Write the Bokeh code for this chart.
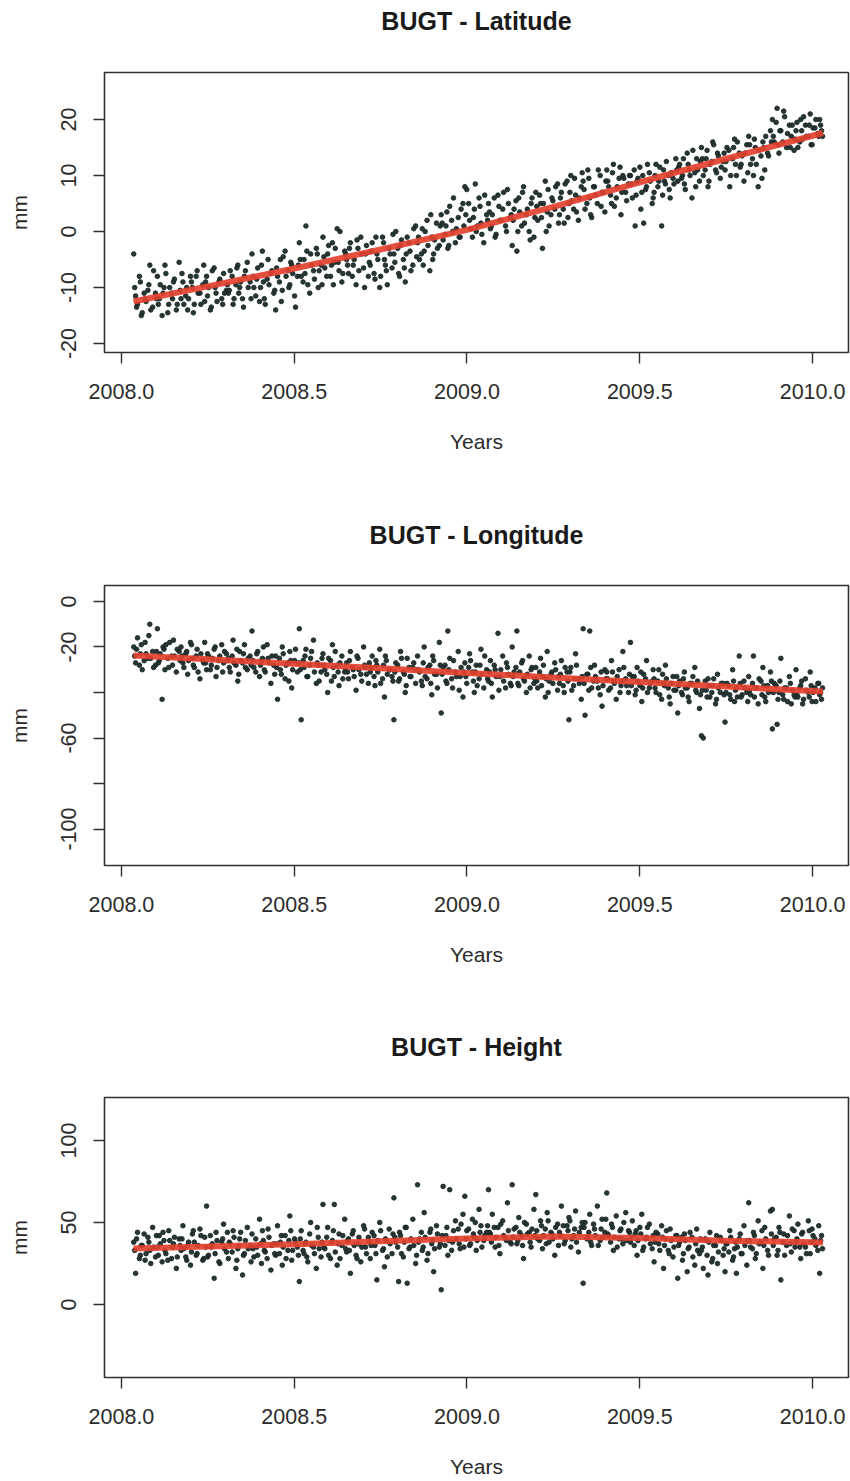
from bokeh.plotting import figure
from bokeh.layouts import column
from bokeh.models import Range1d, FixedTicker, PrintfTickFormatter
from bokeh.core.properties import value
from bokeh.embed import file_html
from bokeh.resources import INLINE

# ---- data ----
epoch_day = [
    13, 15, 17, 20, 22, 25, 28, 30, 33, 36,
    38, 40, 43, 45, 47, 50, 53, 55, 58, 61,
    63, 65, 68, 70, 73, 75, 77, 80, 83, 86,
    88, 90, 92, 95, 98, 100, 103, 106, 108, 111,
    113, 115, 118, 121, 123, 125, 128, 130, 133, 136,
    138, 140, 143, 146, 148, 150, 152, 155, 158, 161,
    163, 165, 168, 170, 173, 176, 178, 180, 183, 186,
    188, 190, 193, 195, 197, 200, 203, 206, 208, 211,
    213, 215, 218, 221, 223, 225, 228, 230, 233, 236,
    238, 240, 242, 245, 248, 250, 253, 256, 258, 261,
    263, 265, 268, 270, 273, 276, 278, 280, 283, 286,
    288, 290, 293, 295, 298, 300, 302, 305, 308, 311,
    313, 315, 318, 320, 323, 326, 328, 330, 333, 336,
    338, 340, 343, 345, 347, 350, 353, 356, 358, 361,
    363, 365, 368, 371, 373, 375, 378, 380, 383, 386,
    388, 390, 392, 395, 398, 400, 403, 406, 408, 411,
    413, 415, 418, 420, 423, 425, 428, 431, 433, 436,
    438, 440, 443, 445, 448, 450, 452, 455, 458, 461,
    463, 465, 468, 471, 473, 475, 478, 480, 483, 486,
    488, 490, 493, 495, 497, 500, 503, 506, 508, 511,
    513, 515, 518, 520, 523, 526, 528, 530, 533, 536,
    538, 540, 543, 545, 548, 550, 552, 555, 558, 561,
    563, 565, 568, 571, 573, 575, 578, 580, 583, 586,
    588, 590, 593, 595, 598, 600, 603, 606, 608, 611,
    613, 615, 618, 620, 622, 625, 628, 630, 633, 636,
    638, 640, 643, 646, 648, 650, 653, 655, 658, 661,
    663, 665, 668, 670, 673, 676, 678, 680, 683, 686,
    688, 690, 693, 695, 697, 700, 703, 706, 708, 711,
    713, 715, 718, 720, 723, 726, 728, 730, 733, 736,
    738, 740,
    14, 16, 19, 21, 24, 26, 29, 31, 34, 37,
    39, 41, 44, 46, 49, 51, 54, 56, 59, 62,
    64, 66, 69, 71, 74, 76, 79, 81, 84, 87,
    89, 91, 94, 96, 99, 101, 104, 107, 109, 112,
    114, 117, 119, 122, 124, 126, 129, 131, 134, 137,
    139, 142, 144, 147, 149, 151, 154, 156, 159, 162,
    164, 167, 169, 171, 174, 177, 179, 181, 184, 187,
    189, 192, 194, 196, 199, 201, 204, 207, 209, 212,
    214, 217, 219, 222, 224, 226, 229, 231, 234, 237,
    239, 241, 244, 246, 249, 251, 254, 257, 259, 262,
    264, 267, 269, 271, 274, 277, 279, 281, 284, 287,
    289, 292, 294, 296, 299, 301, 304, 306, 309, 312,
    314, 317, 319, 321, 324, 327, 329, 331, 334, 337,
    339, 342, 344, 346, 349, 351, 354, 357, 359, 362,
    364, 367, 369, 372, 374, 376, 379, 381, 384, 387,
    389, 391, 394, 396, 399, 401, 404, 407, 409, 412,
    414, 417, 419, 421, 424, 426, 429, 432, 434, 437,
    439, 442, 444, 446, 449, 451, 454, 456, 459, 462,
    464, 467, 469, 472, 474, 476, 479, 481, 484, 487,
    489, 492, 494, 496, 499, 501, 504, 507, 509, 512,
    514, 517, 519, 521, 524, 527, 529, 531, 534, 537,
    539, 542, 544, 546, 549, 551, 554, 556, 559, 562,
    564, 567, 569, 572, 574, 576, 579, 581, 584, 587,
    589, 592, 594, 596, 599, 601, 604, 607, 609, 612,
    614, 617, 619, 621, 624, 626, 629, 631, 634, 637,
    639, 642, 644, 647, 649, 651, 654, 656, 659, 662,
    664, 667, 669, 671, 674, 677, 679, 681, 684, 687,
    689, 692, 694, 696, 699, 701, 704, 707, 709, 712,
    714, 717, 719, 721, 724, 727, 729, 731, 734, 737,
    739, 741,
]

latitude_mm = [
    -4, -11.5, -13, -9, -14.5, -12, -10.5, -6, -13.5, -11,
    -8, -12, -15, -10, -7.5, -13, -11, -9, -14, -5.5,
    -12, -9, -11.5, -14, -8, -10, -13, -7, -11, -9.5,
    -12.5, -8, -10, -13.5, -6.5, -11, -9, -12, -7.5, -10.5,
    -11, -7, -13, -9.5, -6, -10, -12, -8, -5.5, -9,
    -4, -10, -8.5, -12.5, -6, -9, -13, -5, -7.5, -11,
    -14, -8, -5, -10.5, -3.5, -7, -9.5, -6, -11.5, -8,
    -2, -8, -5, 1, -9.5, -4, -7, -3, -10, -6,
    -1, -6.5, -4, -8, -2, -5.5, 0.5, -7, -9, -3.5,
    -5, -7.5, -2, -6, -9.5, -3, -1, -6.5, -4, -8,
    -6, -2, -8.5, -4, -10, -1, -5, -7, -3, -6.5,
    -4, 0, -7.5, -2.5, -5, -9, -1, -3.5, -6, 1,
    -2, -5, 0.5, -3.5, 2, -7, -1, -4, 1.5, -2.5,
    3, -1.5, 1, -3, 4.5, 0, -2, 2.5, -1, 5,
    8, 7.5, 2, -1, 4, 0, 6, 1.5, -2, 3,
    5, 0.5, 3, -1, 6.5, 2, 4, 1, 7.5, 2.5,
    -2.5, 4, -3.5, 6, 1, 8, 3, 0, 5, -1,
    7, 2, 5, -3, 9, 3.5, 1, 6, 4, 8.5,
    3, 7, 1.5, 9, 5, 10, 4, 6.5, 2, 8,
    9, 4, 11, 6, 2.5, 8, 5, 10, 7, 3.5,
    11, 8, 5, 12, 6, 9.5, 3, 10, 7, 8.5,
    10, 6, 1, 9, 11.5, 7, 1.5, 8, 10.5, 5,
    7, 12, 9, 1, 11, 8.5, 10, 6, 9.5, 13,
    9, 12, 10, 8.5, 14, 11, 6, 10.5, 13, 9,
    15, 10, 13, 8, 12, 16, 11, 14, 9.5, 12.5,
    11, 15, 8, 13, 16.5, 10, 14, 12, 9, 15.5,
    17, 12, 10, 15, 8, 13.5, 16, 11, 14, 18,
    20, 16, 22, 14, 18, 21.5, 15, 19, 17, 14.5,
    18, 15, 20, 16.5, 19, 17, 21, 15.5, 18.5, 17.5,
    20, 18,
    -10, -13.5, -8, -15, -11, -12.5, -9.5, -14, -7, -12,
    -13, -9.5, -11, -6, -14.5, -10, -12, -8.5, -13, -10.5,
    -7.5, -13, -10, -12, -9, -14.5, -8, -11, -13, -6,
    -9, -11.5, -14, -7, -10, -12.5, -8.5, -13, -11, -9.5,
    -10.5, -8, -12, -6.5, -11, -9, -13.5, -7, -10, -12,
    -8, -11.5, -6.5, -10, -3.5, -12, -8.5, -9.5, -7, -10.5,
    -6.5, -9, -12.5, -4.5, -8, -10, -5.5, -7.5, -13.5, -6,
    -5, -9, -7.5, -3.5, -11, -6, -8.5, -4, -7, -9.5,
    -4.5, -8, -2.5, -6, -9.5, -3, -5.5, 0, -7.5, -4,
    -6, -3, -8, -5, -1.5, -7, -4, -10, -2.5, -5.5,
    -3.5, -7.5, -1, -5, -8, -2, -6, -9.5, -4, -0.5,
    -5.5, -3, -8, -1.5, -6.5, -4, -2, -7, 0.5, -4.5,
    -1, -4, -6, 0, -2.5, 3, -5, -1.5, -3, 1,
    1.5, -0.5, 3.5, -2.5, 2, 6, 0.5, -1, 4, 1,
    3, 5, 0.5, 2.5, 8.5, 1, 4.5, -0.5, 6.5, 2,
    3.5, 1, 6, -0.5, 4.5, 2, 7, 0, 5, 3,
    2, 5.5, 0, 3.5, 7, 1.5, 4, -1.5, 6, 2.5,
    4.5, 6.5, 2.5, 5, 0, 7.5, 3, 5.5, 8, 1.5,
    6, 4, 8.5, 2.5, 7, 5.5, 9.5, 3.5, 6, 10.5,
    7.5, 5, 9.5, 3, 8, 6.5, 11, 4.5, 7, 9,
    9, 6.5, 10.5, 4.5, 8, 11.5, 7, 9.5, 5.5, 10,
    8.5, 11, 6.5, 9.5, 4, 10, 7.5, 12, 9, 6,
    10, 8, 11.5, 6.5, 9, 12.5, 7.5, 10.5, 8.5, 11,
    11.5, 9.5, 13, 7.5, 12, 10, 14.5, 8, 11, 12.5,
    13, 11, 14.5, 9, 12.5, 15.5, 10.5, 13.5, 11.5, 14,
    12.5, 14.5, 10, 15, 12, 16, 11.5, 13.5, 14, 10.5,
    15.5, 13, 16.5, 12, 14.5, 9.5, 15, 17, 13.5, 16,
    17, 19.5, 15.5, 18, 16, 20.5, 17.5, 15, 19, 16.5,
    19.5, 16, 18, 20.5, 17, 19, 15.5, 18.5, 20, 17,
    19, 17,
]

longitude_mm = [
    -20, -27, -16, -23, -30, -18, -25, -10, -22, -28,
    -12, -26, -43, -21, -19, -29, -24, -17, -31, -22,
    -20, -27, -23, -32, -18, -25, -29, -21, -34, -26,
    -18, -30, -24, -28, -21, -33, -26, -19, -27, -23,
    -25, -31, -17, -28, -35, -22, -27, -19, -30, -24,
    -13, -29, -23, -33, -26, -20, -31, -25, -36, -28,
    -24, -43, -30, -20, -34, -27, -22, -38, -26, -31,
    -12, -52, -29, -21, -33, -25, -17, -36, -28, -31,
    -23, -30, -40, -26, -19, -33, -28, -37, -24, -31,
    -27, -34, -22, -30, -39, -25, -32, -20, -29, -36,
    -31, -24, -37, -28, -21, -34, -42, -26, -30, -33,
    -52, -27, -35, -22, -31, -40, -25, -33, -29, -36,
    -24, -31, -37, -20, -34, -28, -41, -26, -32, -18,
    -49, -29, -35, -13, -25, -38, -31, -22, -33, -42,
    -27, -36, -23, -31, -40, -28, -34, -21, -38, -30,
    -35, -26, -42, -30, -14, -33, -24, -38, -29, -36,
    -20, -31, -13, -37, -27, -34, -40, -24, -30, -36,
    -29, -38, -25, -33, -42, -22, -35, -31, -27, -39,
    -36, -26, -40, -31, -52, -29, -37, -23, -34, -43,
    -12, -50, -32, -13, -38, -28, -35, -41, -46, -30,
    -31, -39, -26, -35, -43, -30, -37, -22, -34, -40,
    -18, -33, -41, -29, -37, -44, -32, -26, -38, -35,
    -34, -40, -30, -43, -36, -28, -38, -45, -33, -39,
    -49, -35, -41, -31, -38, -44, -36, -29, -40, -47,
    -59, -60, -39, -34, -42, -37, -45, -32, -40, -36,
    -53, -36, -41, -30, -44, -38, -24, -42, -35, -40,
    -33, -41, -24, -38, -45, -35, -29, -42, -37, -31,
    -56, -36, -54, -40, -25, -43, -38, -33, -45, -41,
    -30, -42, -37, -45, -34, -40, -31, -44, -38, -36,
    -41, -43,
    -24, -21, -28, -19, -26, -23, -15, -25, -29, -22,
    -27, -23, -20, -30, -25, -18, -28, -24, -21, -26,
    -24, -29, -22, -26, -19, -28, -24, -31, -23, -27,
    -27, -23, -30, -25, -20, -29, -24, -31, -22, -26,
    -29, -24, -27, -21, -32, -26, -23, -29, -25, -28,
    -26, -31, -22, -28, -25, -30, -19, -27, -24, -32,
    -29, -25, -32, -23, -28, -35, -26, -30, -21, -27,
    -30, -26, -24, -33, -28, -22, -31, -27, -35, -25,
    -28, -32, -25, -35, -29, -22, -31, -27, -34, -30,
    -31, -26, -29, -33, -24, -30, -35, -28, -32, -27,
    -29, -33, -26, -31, -36, -28, -24, -32, -30, -35,
    -31, -28, -34, -25, -32, -37, -29, -33, -27, -30,
    -30, -35, -27, -33, -29, -36, -24, -32, -38, -28,
    -32, -28, -36, -30, -34, -26, -33, -39, -29, -31,
    -33, -29, -26, -35, -31, -37, -28, -32, -24, -34,
    -31, -36, -28, -33, -39, -30, -35, -27, -32, -37,
    -33, -29, -36, -31, -26, -35, -32, -38, -29, -34,
    -35, -31, -37, -28, -34, -40, -32, -36, -30, -33,
    -32, -37, -29, -35, -31, -39, -34, -28, -36, -33,
    -36, -32, -39, -29, -35, -33, -38, -31, -37, -34,
    -34, -38, -31, -36, -33, -40, -35, -29, -37, -32,
    -37, -33, -39, -35, -31, -38, -34, -40, -36, -30,
    -38, -35, -41, -32, -37, -34, -42, -36, -39, -33,
    -37, -40, -34, -38, -42, -36, -33, -39, -35, -41,
    -39, -35, -42, -37, -40, -34, -43, -38, -36, -41,
    -40, -37, -43, -35, -39, -42, -36, -41, -38, -44,
    -39, -36, -42, -38, -34, -41, -37, -44, -40, -35,
    -40, -37, -43, -35, -41, -38, -44, -36, -39, -42,
    -41, -38, -35, -43, -39, -42, -37, -40, -44, -36,
    -40, -38,
]

height_mm = [
    38, 19, 44, 30, 36, 27, 41, 33, 47, 29,
    35, 42, 26, 39, 31, 45, 28, 37, 22, 40,
    33, 48, 29, 36, 24, 43, 38, 31, 46, 27,
    41, 60, 30, 35, 16, 44, 26, 38, 49, 32,
    28, 37, 45, 22, 34, 40, 18, 31, 47, 36,
    43, 29, 35, 52, 25, 39, 32, 46, 21, 37,
    30, 48, 38, 24, 42, 33, 54, 27, 40, 35,
    14, 45, 31, 38, 26, 50, 35, 22, 41, 29,
    61, 34, 47, 28, 39, 61, 24, 43, 36, 52,
    32, 40, 19, 45, 30, 37, 26, 48, 35, 41,
    28, 44, 36, 15, 50, 33, 23, 39, 46, 31,
    65, 38, 14, 42, 29, 47, 13, 35, 52, 25,
    73, 40, 33, 56, 27, 44, 37, 20, 48, 35,
    9, 72, 42, 30, 70, 38, 51, 46, 34, 55,
    66, 45, 36, 52, 41, 33, 58, 48, 39, 44,
    70, 43, 55, 35, 47, 31, 51, 40, 62, 38,
    73, 46, 37, 53, 42, 28, 49, 44, 35, 58,
    67, 40, 51, 34, 46, 56, 38, 43, 30, 49,
    44, 60, 37, 48, 53, 35, 42, 57, 32, 47,
    13, 50, 41, 55, 36, 46, 60, 39, 52, 44,
    68, 42, 49, 33, 54, 40, 46, 37, 56, 45,
    38, 51, 43, 30, 47, 55, 35, 41, 49, 34,
    26, 44, 37, 48, 22, 40, 33, 46, 29, 42,
    16, 38, 27, 43, 20, 35, 41, 24, 46, 31,
    33, 22, 39, 18, 44, 28, 36, 25, 41, 30,
    20, 37, 45, 27, 34, 19, 40, 31, 48, 24,
    62, 35, 44, 28, 51, 38, 22, 47, 33, 57,
    58, 40, 30, 47, 15, 43, 36, 54, 32, 45,
    38, 49, 28, 44, 35, 51, 31, 46, 40, 33,
    19, 42,
    33, 40, 28, 36, 43, 31, 38, 25, 35, 42,
    30, 37, 44, 33, 27, 39, 35, 41, 29, 36,
    40, 34, 27, 38, 32, 45, 30, 36, 42, 28,
    35, 29, 42, 37, 31, 39, 25, 40, 34, 44,
    38, 32, 41, 27, 36, 44, 30, 39, 34, 26,
    34, 40, 30, 37, 45, 33, 28, 41, 36, 31,
    37, 31, 42, 35, 28, 39, 45, 33, 38, 30,
    40, 33, 37, 29, 43, 36, 31, 47, 34, 38,
    35, 41, 30, 38, 45, 32, 37, 28, 42, 34,
    39, 33, 43, 36, 28, 41, 35, 46, 31, 38,
    36, 42, 31, 39, 45, 34, 40, 29, 37, 43,
    41, 35, 44, 31, 38, 47, 34, 40, 36, 30,
    38, 44, 35, 41, 31, 46, 39, 34, 43, 37,
    42, 36, 47, 39, 33, 45, 40, 37, 49, 35,
    40, 46, 37, 43, 50, 39, 44, 35, 42, 48,
    44, 38, 47, 41, 36, 49, 42, 39, 45, 37,
    41, 47, 39, 44, 36, 50, 43, 38, 46, 42,
    45, 39, 48, 42, 37, 51, 44, 40, 47, 36,
    42, 48, 39, 45, 51, 40, 46, 38, 44, 50,
    47, 40, 44, 38, 49, 42, 36, 46, 41, 52,
    43, 38, 47, 41, 35, 45, 40, 50, 39, 44,
    41, 36, 45, 39, 43, 33, 40, 47, 37, 42,
    38, 43, 33, 41, 36, 45, 31, 39, 35, 42,
    36, 41, 31, 39, 34, 44, 29, 37, 33, 40,
    35, 40, 30, 38, 26, 36, 42, 32, 39, 34,
    37, 32, 41, 29, 38, 35, 43, 31, 36, 39,
    39, 34, 42, 31, 37, 45, 36, 40, 30, 43,
    36, 41, 33, 44, 38, 30, 42, 37, 46, 35,
    40, 35, 43, 37, 31, 45, 38, 42, 36, 48,
    39, 34,
]

trend_year = [2008.035, 2008.25, 2008.5, 2008.75, 2009.0, 2009.25, 2009.5, 2009.75, 2010.03]
latitude_trend = [-12.5, -9.8, -6.6, -3.2, 0.3, 4.4, 8.8, 13.0, 17.6]
longitude_trend = [-23.7, -25.4, -27.4, -29.4, -31.4, -33.4, -35.4, -37.4, -39.6]
height_trend = [34.2, 35.3, 36.8, 38.6, 40.3, 41.4, 40.6, 38.9, 37.8]

x_ticks = [2008.0, 2008.5, 2009.0, 2009.5, 2010.0]
lat_ticks = [-20, -10, 0, 10, 20]
lon_ticks = [0, -20, -40, -60, -80, -100]
lon_hidden = {-40: "", -80: ""}
hgt_ticks = [0, 50, 100]

years = [2008 + d / 365.25 for d in epoch_day]

FONT = "Liberation Sans"
TXT = "#2b2b2b"
X0, X1 = 2007.951, 2010.104
W = 850
TITLE_H = 44
FRAME_TOP = 72
BORDER_L, BORDER_R = 104, 2


def title_strip(text, center_px):
    """A thin figure holding only the bold panel title, frame aligned with the plot."""
    t = figure(width=W, height=TITLE_H, output_backend="svg", toolbar_location=None,
               x_range=Range1d(X0, X1), y_range=Range1d(0, TITLE_H),
               x_axis_type=None, y_axis_type=None, min_border=0,
               min_border_left=BORDER_L, min_border_right=BORDER_R)
    t.grid.visible = False
    t.outline_line_color = None
    t.background_fill_color = "white"
    t.border_fill_color = "white"
    t.text(x=[(X0 + X1) / 2], y=[TITLE_H - center_px], text=[text],
           text_align="center", text_baseline="middle",
           text_font=value(FONT), text_font_size="25px", text_font_style="bold",
           text_color="#1a1a1a")
    return t


def panel(yvals, trend, yrange, yticks, height, bottom, overrides=None):
    p = figure(width=W, height=height, output_backend="svg", toolbar_location=None,
               x_range=Range1d(X0, X1), y_range=Range1d(*yrange),
               min_border_left=BORDER_L, min_border_right=BORDER_R,
               min_border_top=FRAME_TOP - TITLE_H, min_border_bottom=bottom)
    p.grid.visible = False
    p.outline_line_color = "#303030"
    p.outline_line_width = 1.6
    p.background_fill_color = "white"
    p.border_fill_color = "white"

    for ax in (p.xaxis[0], p.yaxis[0]):
        ax.axis_line_color = None
        ax.major_tick_line_color = "#303030"
        ax.major_tick_line_width = 1.4
        ax.major_tick_out = 11
        ax.major_tick_in = 0
        ax.minor_tick_line_color = None
        ax.major_label_text_font = FONT
        ax.major_label_text_font_size = "21.5px"
        ax.major_label_text_color = TXT
        ax.axis_label_text_font = FONT
        ax.axis_label_text_font_size = "21px"
        ax.axis_label_text_font_style = "normal"
        ax.axis_label_text_color = TXT

    p.xaxis.ticker = FixedTicker(ticks=x_ticks)
    p.xaxis.formatter = PrintfTickFormatter(format="%.1f")
    p.xaxis.major_label_standoff = 20
    p.xaxis.axis_label = "Years"
    p.xaxis.axis_label_standoff = 28

    p.yaxis.ticker = FixedTicker(ticks=yticks)
    p.yaxis.formatter = PrintfTickFormatter(format="%d")
    p.yaxis.major_label_orientation = "vertical"
    p.yaxis.major_label_standoff = 17
    if overrides:
        p.yaxis.major_label_overrides = overrides
    p.yaxis.axis_label = "mm"
    p.yaxis.axis_label_standoff = 28

    p.scatter(years, yvals, size=4.6, color="#1c2b2b", alpha=0.95)
    p.line(trend_year, trend, line_color="#e3412f", line_width=6, line_alpha=0.92)
    return p


t1 = title_strip("BUGT - Latitude", 20)
p1 = panel(latitude_mm, latitude_trend, (-21.6, 28.4), lat_ticks, 513 - TITLE_H, 161)
t2 = title_strip("BUGT - Longitude", 21)
p2 = panel(longitude_mm, longitude_trend, (-116, 7), lon_ticks, 512 - TITLE_H, 160, lon_hidden)
t3 = title_strip("BUGT - Height", 21)
p3 = panel(height_mm, height_trend, (-44.5, 126.2), hgt_ticks, 456 - TITLE_H, 104)

layout = column(t1, p1, t2, p2, t3, p3, spacing=0)
open("out.html", "w").write(file_html(layout, INLINE))
